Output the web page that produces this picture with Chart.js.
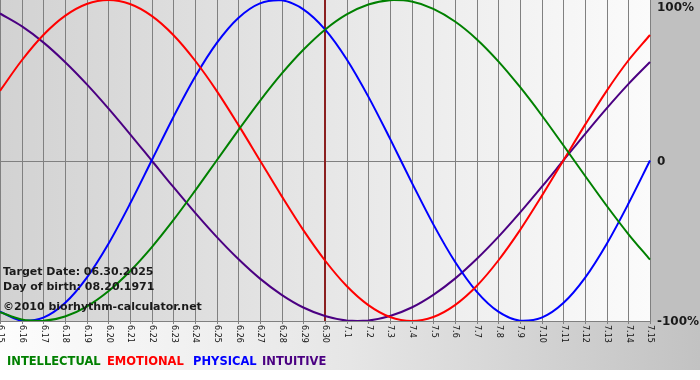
<!DOCTYPE html>
<html>
<head>
<meta charset="utf-8">
<title>Biorhythm</title>
<script src="https://cdn.jsdelivr.net/npm/chart.js@4/dist/chart.umd.min.js"></script>
<style>
  html, body { margin: 0; padding: 0; background: #fff; }
  #wrap { width: 700px; height: 380px; }
</style>
</head>
<body>
<div id="wrap"><canvas id="bio" width="700" height="380"></canvas></div>
<script>
// days shown on the x axis
const days = ['6.15','6.16','6.17','6.18','6.19','6.20','6.21','6.22','6.23','6.24','6.25',
  '6.26','6.27','6.28','6.29','6.30','7.1','7.2','7.3','7.4','7.5','7.6','7.7','7.8','7.9',
  '7.10','7.11','7.12','7.13','7.14','7.15'];
const targetDay = '6.30';

// cycle values in percent, one per day
const intellectual = [-94.5,-99.0,-99.9,-97.2,-91.0,-81.5,-69.0,-54.1,-37.2,-18.9,0,18.9,37.2,
  54.1,69.0,81.5,91.0,97.2,99.9,99.0,94.5,86.6,75.6,61.8,45.8,28.2,9.5,-9.5,-28.2,-45.8,-61.8];
const emotional = [43.4,62.3,78.2,90.1,97.5,100,97.5,90.1,78.2,62.3,43.4,22.2,0,-22.2,-43.4,
  -62.3,-78.2,-90.1,-97.5,-100,-97.5,-90.1,-78.2,-62.3,-43.4,-22.2,0,22.2,43.4,62.3,78.2];
const physical = [-94.2,-99.8,-97.9,-88.8,-73.1,-52.0,-27.0,0,27.0,52.0,73.1,88.8,97.9,99.8,
  94.2,81.7,63.1,39.8,13.6,-13.6,-39.8,-63.1,-81.7,-94.2,-99.8,-97.9,-88.8,-73.1,-52.0,-27.0,0];
const intuitive = [91.6,83.7,73.6,61.4,47.6,32.5,16.5,0,-16.5,-32.5,-47.6,-61.4,-73.6,-83.7,
  -91.6,-96.9,-99.7,-99.7,-96.9,-91.6,-83.7,-73.6,-61.4,-47.6,-32.5,-16.5,0,16.5,32.5,47.6,61.4];

// right side scale labels
const yTickValues = [100, 0, -100];
const yTickLabels = ['100%', '0', '-100%'];

// legend + info texts
const legendNames = ['INTELLECTUAL', 'EMOTIONAL', 'PHYSICAL', 'INTUITIVE'];
const infoLines = ['Target Date: 06.30.2025', 'Day of birth: 08.20.1971', '\u00a92010 biorhythm-calculator.net'];

const colors = {
  intellectual: '#008000',
  emotional:    '#ff0000',
  physical:     '#0000ff',
  intuitive:    '#4b0082'
};
const legendColors = [colors.intellectual, colors.emotional, colors.physical, colors.intuitive];

// background, grid and target line
const backdrop = {
  id: 'backdrop',
  beforeDraw(chart) {
    const { ctx, chartArea: a, width, height } = chart;
    const xs = chart.scales.x, ys = chart.scales.y;
    ctx.save();
    ctx.fillStyle = '#fff';
    ctx.fillRect(0, 0, width, height);

    // band under the plot
    let g = ctx.createLinearGradient(0, 0, width, 0);
    g.addColorStop(0, '#fdfdfd');
    g.addColorStop(0.5, '#e6e6e6');
    g.addColorStop(1, '#c2c2c2');
    ctx.fillStyle = g;
    ctx.fillRect(0, a.bottom, width, height - 10 - a.bottom);

    // right panel
    ctx.fillStyle = '#c0c0c0';
    ctx.fillRect(a.right, 0, width - a.right, a.bottom + 1);

    // plot
    g = ctx.createLinearGradient(a.left, 0, a.right, 0);
    g.addColorStop(0, '#d2d2d2');
    g.addColorStop(1, '#fbfbfb');
    ctx.fillStyle = g;
    ctx.fillRect(a.left, a.top, a.right - a.left, a.bottom - a.top);

    // grid
    ctx.strokeStyle = '#808080';
    ctx.lineWidth = 1;
    ctx.beginPath();
    days.forEach((d, i) => {
      const x = Math.round(xs.getPixelForValue(i)) + 0.5;
      ctx.moveTo(x, a.top);
      ctx.lineTo(x, a.bottom + 3);
    });
    [0, -100].forEach(v => {
      const y = Math.round(ys.getPixelForValue(v)) + 0.5;
      ctx.moveTo(a.left, y);
      ctx.lineTo(a.right + 1, y);
    });
    ctx.stroke();
    ctx.restore();
  },
  beforeDatasetsDraw(chart) {
    const { ctx, chartArea: a } = chart;
    const x = Math.round(chart.scales.x.getPixelForValue(days.indexOf(targetDay)));
    ctx.save();
    ctx.strokeStyle = '#8b2020';
    ctx.lineWidth = 2;
    ctx.beginPath();
    ctx.moveTo(x, a.top);
    ctx.lineTo(x, a.bottom);
    ctx.stroke();
    ctx.restore();
  }
};

// all the text around the plot
const texts = {
  id: 'texts',
  afterDraw(chart) {
    const { ctx, chartArea: a } = chart;
    const xs = chart.scales.x, ys = chart.scales.y;
    ctx.save();

    // day labels, rotated clockwise
    ctx.fillStyle = '#111';
    ctx.font = '8px "DejaVu Sans"';
    ctx.textAlign = 'left';
    ctx.textBaseline = 'middle';
    days.forEach((d, i) => {
      const x = xs.getPixelForValue(i);
      ctx.save();
      ctx.translate(x + 0.5, a.bottom + 4);
      ctx.rotate(Math.PI / 2);
      ctx.fillText(d, 0, 0);
      ctx.restore();
    });

    // percent labels
    ctx.font = 'bold 12px "DejaVu Sans"';
    ctx.fillStyle = '#1a1a1a';
    yTickValues.forEach((v, i) => {
      const y = Math.max(8, ys.getPixelForValue(v) + 1);
      ctx.fillText(yTickLabels[i], a.right + 7, y);
    });

    // info block
    ctx.font = 'bold 11px "DejaVu Sans"';
    ctx.fillStyle = '#1a1a1a';
    [272, 287, 307].forEach((y, i) => ctx.fillText(infoLines[i], 3, y));

    // legend
    ctx.font = 'bold 11.5px "DejaVu Sans"';
    [7, 107, 193, 262].forEach((x, i) => {
      ctx.fillStyle = legendColors[i];
      ctx.fillText(legendNames[i], x, 362);
    });
    ctx.restore();
  }
};

const ds = (label, data, color) => ({
  label, data,
  borderColor: color,
  borderWidth: 2,
  pointRadius: 0,
  tension: 0.33,
  fill: false
});

new Chart(document.getElementById('bio').getContext('2d'), {
  type: 'line',
  data: {
    labels: days,
    datasets: [
      ds('Intellectual', intellectual, colors.intellectual),
      ds('Emotional', emotional, colors.emotional),
      ds('Physical', physical, colors.physical),
      ds('Intuitive', intuitive, colors.intuitive)
    ]
  },
  options: {
    responsive: false,
    animation: false,
    devicePixelRatio: 1,
    layout: { padding: { left: 0, right: 50, top: 0, bottom: 59 } },
    plugins: {
      legend: { display: false },
      tooltip: { enabled: false }
    },
    scales: {
      x: { type: 'category', display: false },
      y: { display: false, min: -100, max: 100 }
    }
  },
  plugins: [backdrop, texts]
});
</script>
</body>
</html>
